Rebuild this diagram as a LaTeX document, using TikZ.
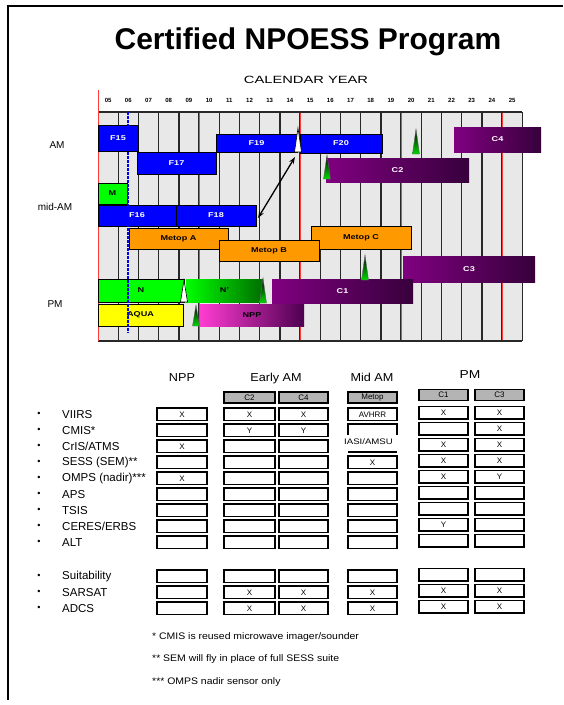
\documentclass[tikz,border=0pt]{standalone}
\usepackage{fontspec}
\setmainfont{Liberation Sans}
\usetikzlibrary{arrows.meta}
\definecolor{gridbg}{RGB}{232,232,232}
\definecolor{gridln}{RGB}{40,40,40}
\definecolor{redln}{RGB}{255,60,60}
\definecolor{barblue}{RGB}{0,0,255}
\definecolor{bargreen}{RGB}{0,255,0}
\definecolor{barorange}{RGB}{255,153,0}
\definecolor{baryellow}{RGB}{255,255,0}
\definecolor{purp}{RGB}{128,0,128}
\definecolor{darkpurp}{RGB}{55,0,60}
\definecolor{darkgrn}{RGB}{0,110,0}
\definecolor{magent}{RGB}{255,60,210}
\definecolor{hdrgray}{RGB}{180,180,180}
\newcommand\wide[2][1.3]{\scalebox{#1}[1]{#2}}
\newcommand\ganttbar[7]{\node[#6, minimum width={(#4-#2)*1pt}, minimum height={(#5-#3)*1pt}] (#1) at ({(#2+#4)/2},{-(#3+#5)/2}) {#7};}
\newcommand\launchmark[4]{\path[#4] ({#1-3.5},-#3) -- (#1,-#2) -- ({#1+3.5},-#3) -- cycle;}
\newcommand\tcell[5]{\node[tbox, minimum width={(#3-#2)*1pt}] (#1) at ({(#2+#3)/2},{-(#4+6.25)}) {#5};}
\tikzset{
  gridline/.style={draw=gridln, line width=1.4pt},
  redline/.style={draw=redln, line width=1pt},
  yearlab/.style={font=\fontsize{6}{7}\selectfont\bfseries, inner sep=0pt},
  bar/.style={inner sep=0pt, outer sep=0pt, font=\fontsize{7}{8}\selectfont\bfseries},
  blueb/.style={bar, draw=black, line width=0.9pt, fill=barblue, text=white},
  greenb/.style={bar, draw=black, line width=0.9pt, fill=bargreen, text=black},
  orangeb/.style={bar, draw=black, line width=0.9pt, fill=barorange, text=black},
  yellowb/.style={bar, draw=black, line width=0.9pt, fill=baryellow, text=black},
  purpleb/.style={bar, left color=purp, right color=darkpurp, text=white},
  ngrad/.style={bar, left color=bargreen, right color=darkgrn, text=black},
  nppgrad/.style={bar, left color=magent, right color=darkpurp!70!purp, text=black},
  greentri/.style={top color=black, bottom color=bargreen!85!black, draw=black!60, line width=0.4pt},
  whitetri/.style={fill=white, draw=black, line width=0.6pt},
  tbox/.style={draw=black, line width=1.1pt, fill=white, inner sep=0pt, outer sep=0pt, minimum height=12.5pt, font=\fontsize{8}{9}\selectfont},
  hbox/.style={draw=black, line width=1.1pt, fill=hdrgray, inner sep=0pt, outer sep=0pt, minimum height=11pt, font=\fontsize{8}{9}\selectfont},
  hdr/.style={font=\fontsize{11.5}{13}\selectfont, inner sep=0pt, anchor=base},
  tlabel/.style={font=\fontsize{11.5}{13}\selectfont, inner sep=0pt, anchor=west},
  note/.style={font=\fontsize{9.5}{11}\selectfont, inner sep=0pt, anchor=west},
}
\begin{document}
\begin{tikzpicture}[x=1pt,y=1pt]
\useasboundingbox (0,0) rectangle (564,-705);
\fill[white] (0,0) rectangle (564,-705);
% page border
\draw[line width=1.5pt] (563,-6) -- (8,-6) -- (8,-700);
% title
\node[font=\fontsize{30}{34}\selectfont\bfseries, inner sep=0pt] (title) at (308,-42) {Certified NPOESS Program};
\node[font=\fontsize{10.5}{12}\selectfont, inner sep=0pt] (calyear) at (306,-80) {\wide[1.4]{CALENDAR YEAR}};
% grid
\fill[gridbg] (98,-112) rectangle (522,-341);
\foreach \k in {1,...,21} {\draw[gridline] ({98+20.2*\k},-112) -- ({98+20.2*\k},-341);}
\draw[gridline] (98,-112) -- (522,-112);
\draw[gridline] (98,-341) -- (522,-341);
\foreach \k in {5,10,15,20} {\draw[redline] ({98+20.2*\k},-113) -- ({98+20.2*\k},-340);}
\draw[redline] (98,-90) -- (98,-341);
\foreach \yy [count=\k from 0] in {05,06,07,08,09,10,11,12,13,14,15,16,17,18,19,20,21,22,23,24,25}
  {\node[yearlab] (yr\yy) at ({108.1+20.2*\k},-100) {\yy};}
% row labels
\node[font=\fontsize{10}{12}\selectfont, inner sep=0pt] (lam) at (57,-145) {AM};
\node[font=\fontsize{10}{12}\selectfont, inner sep=0pt] (lmid) at (55,-207) {mid-AM};
\node[font=\fontsize{10}{12}\selectfont, inner sep=0pt] (lpm) at (55,-304) {PM};
% AM bars
\ganttbar{f15}{98}{125}{138}{151}{blueb}{\wide{F15}}
\ganttbar{f17}{137}{152}{216}{174}{blueb}{\wide{F17}}
\ganttbar{f19}{216}{134}{297}{152}{blueb}{\wide{F19}}
\ganttbar{f20}{300}{134}{382}{153}{blueb}{\wide{F20}}
\ganttbar{c4}{454}{127}{541}{152}{purpleb}{\wide{C4}}
\ganttbar{c2}{326}{158}{469}{182}{purpleb}{\wide{C2}}
% mid-AM bars
\ganttbar{m}{98}{183}{127}{204}{greenb}{\wide{M}}
\ganttbar{f16}{98}{205}{176}{226}{blueb}{\wide{F16}}
\ganttbar{f18}{176}{205}{256}{226}{blueb}{\wide{F18}}
\ganttbar{metopa}{129}{228}{228}{249}{orangeb}{\wide{Metop A}}
\ganttbar{metopc}{311}{226}{411}{249}{orangeb}{\wide{Metop C}}
\ganttbar{metopb}{219}{240}{319}{261}{orangeb}{\wide{Metop B}}
\ganttbar{c3}{403}{256}{535}{282}{purpleb}{\wide{C3}}
% PM bars
\ganttbar{c1}{272}{279}{413}{303}{purpleb}{\wide{C1}}
\ganttbar{n}{98}{279}{184}{302}{greenb}{\wide{N}}
\ganttbar{nprime}{186}{279}{263}{302}{ngrad}{\wide{N'}}
\ganttbar{aqua}{98}{304}{183}{326}{yellowb}{\wide{AQUA}}
\ganttbar{npp}{200}{304}{304}{326}{nppgrad}{\wide{NPP}}
% launch markers
\launchmark{298}{128}{152}{whitetri}
\launchmark{416}{129}{154}{greentri}
\launchmark{327}{155}{179}{greentri}
\launchmark{365}{255}{280}{greentri}
\launchmark{184}{280}{302}{whitetri}
\launchmark{263}{278}{303}{greentri}
\launchmark{196}{305}{326}{greentri}
% blue dashed line
\coordinate (bltop) at (128,-112);
\coordinate (blbot) at (128,-333);
\draw[draw=blue, line width=1.8pt, dash pattern=on 2.5pt off 1.5pt] (bltop) -- (blbot);
% arrow
\coordinate (arrA) at (295,-157);
\coordinate (arrB) at (258,-218);
\draw[{Stealth[length=7pt,width=5pt]}-{Stealth[length=7pt,width=5pt]}, line width=1.3pt] (arrA) -- (arrB);
% table headers
\node[hdr] (hnpp) at (182,-381) {\wide[1.1]{NPP}};
\node[hdr] (hearly) at (276,-381) {\wide[1.1]{Early AM}};
\node[hdr] (hmid) at (372,-381) {\wide[1.1]{Mid AM}};
\node[hdr] (hpm) at (470,-378) {\wide[1.2]{PM}};
\node[hbox, minimum width=51pt] (sc2) at (249.5,-397.5) {C2};
\node[hbox, minimum width=49pt] (sc4) at (303.5,-397.5) {C4};
\node[hbox, minimum width=49pt] (smetop) at (372.5,-397.5) {Metop};
\node[hbox, minimum width=49pt] (sc1) at (443.5,-395) {C1};
\node[hbox, minimum width=49pt] (sc3) at (499.5,-395) {C3};
% row labels
\foreach \i/\yt/\lab in {1/408/{VIIRS}, 2/424/{CMIS*}, 3/440/{CrIS/ATMS}, 4/456/{SESS (SEM)**}, 5/472/{OMPS (nadir)***}, 6/488/{APS}, 7/504/{TSIS}, 8/520/{CERES/ERBS}, 9/536/{ALT}, 10/570/{Suitability}, 11/586/{SARSAT}, 12/602/{ADCS}}
  {\node[font=\fontsize{9}{10}\selectfont, inner sep=0pt] (bul\i) at (39,{-(\yt+6.25)}) {\textbullet};
   \node[tlabel] (lab\i) at (62,{-(\yt+6.25)}) {\lab};}
% NPP column
\foreach \i/\yt/\t in {1/408/X, 2/424/{}, 3/440/X, 4/456/{}, 5/472/X, 6/488/{}, 7/504/{}, 8/520/{}, 9/536/{}, 10/570/{}, 11/586/{}, 12/602/{}}
  {\tcell{npp\i}{157}{207}{\yt}{\t}}
% Early AM C2
\foreach \i/\yt/\t in {1/408/X, 2/424/Y, 3/440/{}, 4/456/{}, 5/472/{}, 6/488/{}, 7/504/{}, 8/520/{}, 9/536/{}, 10/570/{}, 11/586/X, 12/602/X}
  {\tcell{ctwo\i}{224}{275}{\yt}{\t}}
% Early AM C4
\foreach \i/\yt/\t in {1/408/X, 2/424/Y, 3/440/{}, 4/456/{}, 5/472/{}, 6/488/{}, 7/504/{}, 8/520/{}, 9/536/{}, 10/570/{}, 11/586/X, 12/602/X}
  {\tcell{cfour\i}{279}{328}{\yt}{\t}}
% Mid AM
\tcell{mid1}{348}{397}{408}{AVHRR}
\draw[line width=1.1pt] (348,-435) -- (348,-424) -- (397,-424) -- (397,-435);
\node[font=\fontsize{8}{9}\selectfont, inner sep=0pt] (iasi) at (368.5,-441.5) {\wide[1.2]{IASI/AMSU}};
\draw[line width=1.1pt] (348,-452) -- (397,-452);
\foreach \i/\yt/\t in {4/456/X, 5/472/{}, 6/488/{}, 7/504/{}, 8/520/{}, 9/536/{}, 10/570/{}, 11/586/X, 12/602/X}
  {\tcell{mid\i}{348}{397}{\yt}{\t}}
% PM C1
\foreach \i/\yt/\t in {1/406.5/X, 2/422.5/{}, 3/438.5/X, 4/454.5/X, 5/470.5/X, 6/486.5/{}, 7/502.5/{}, 8/518.5/Y, 9/534.5/{}, 10/568.5/{}, 11/584.5/X, 12/600.5/X}
  {\tcell{cone\i}{419}{468}{\yt}{\t}}
% PM C3
\foreach \i/\yt/\t in {1/406.5/X, 2/422.5/X, 3/438.5/X, 4/454.5/X, 5/470.5/Y, 6/486.5/{}, 7/502.5/{}, 8/518.5/{}, 9/534.5/{}, 10/568.5/{}, 11/584.5/X, 12/600.5/X}
  {\tcell{cthree\i}{475}{524}{\yt}{\t}}
% footnotes
\node[note] (fn1) at (152,-637) {\wide[1.1]{* CMIS is reused microwave imager/sounder}};
\node[note] (fn2) at (152,-659) {\wide[1.1]{** SEM will fly in place of full SESS suite}};
\node[note] (fn3) at (152,-682) {\wide[1.1]{*** OMPS nadir sensor only}};
\end{tikzpicture}
\end{document}
